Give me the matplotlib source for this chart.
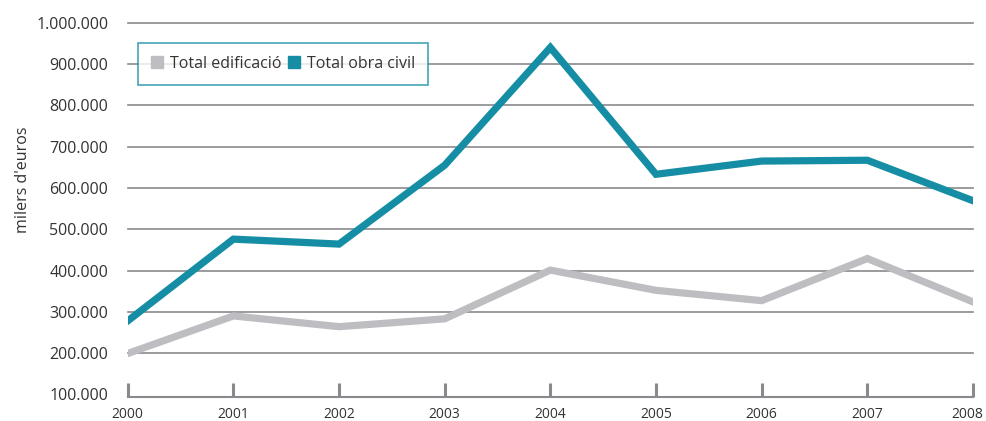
import numpy as np
import matplotlib
matplotlib.use('Agg')
import matplotlib.pyplot as plt
import matplotlib.transforms as mtransforms
from matplotlib.lines import Line2D
from matplotlib.ticker import FuncFormatter

# Data (milers d'euros)
years = [2000, 2001, 2002, 2003, 2004, 2005, 2006, 2007, 2008]
edificacio = [199000, 290000, 264000, 283000, 401000, 352000, 327000, 429000, 324000]
obra_civil = [278000, 476000, 464000, 655000, 940000, 633000, 665000, 667000, 569000]
yticks = [100000, 200000, 300000, 400000, 500000, 600000, 700000, 800000, 900000, 1000000]

teal = '#158EA5'
grey = '#BEBEC2'
axis_grey = '#8A8A8E'

plt.rcParams['font.family'] = ['Open Sans', 'DejaVu Sans']

fig = plt.figure(figsize=(9.87, 4.21), dpi=100)
ax = fig.add_axes([0.1294, 0.057, 0.8564, 0.889])

ax.plot(years, edificacio, color=grey, lw=5.2, solid_joinstyle='miter', zorder=3)
ax.plot(years, obra_civil, color=teal, lw=5.2, solid_joinstyle='miter', zorder=3)

ax.set_xlim(2000, 2008)
ax.set_ylim(93700, 1000000)
ax.set_xticks(years)
ax.set_yticks(yticks)
ax.yaxis.set_major_formatter(FuncFormatter(lambda v, p: f'{int(v):,}'.replace(',', '.')))

# horizontal grid
for v in yticks[1:]:
    ax.axhline(v, color=axis_grey, lw=1.2, zorder=1, clip_on=False)

for s in ['top', 'right', 'left']:
    ax.spines[s].set_visible(False)
ax.spines['bottom'].set_color(axis_grey)
ax.spines['bottom'].set_linewidth(1.5)

ax.tick_params(axis='x', direction='in', length=10, width=2.2, color=axis_grey,
               labelsize=10, labelcolor='#333333', pad=7)
ax.tick_params(axis='y', length=0, labelsize=11.5, labelcolor='#333333', pad=14)

# last year label sits a bit to the left so it fits in the figure
last = ax.get_xticklabels()[-1]
last.set_transform(last.get_transform() + mtransforms.ScaledTranslation(-6 / 100, 0, fig.dpi_scale_trans))

ax.set_ylabel("milers d'euros", fontsize=11.5, color='#333333')
ax.yaxis.set_label_coords(-0.115, 0.58)

handles = [Line2D([], [], marker='s', ls='', color=grey, markersize=8.5),
           Line2D([], [], marker='s', ls='', color=teal, markersize=8.5)]
leg = ax.legend(handles, ['Total edificació', 'Total obra civil'], loc='upper left',
                bbox_to_anchor=(0.012, 0.946), borderaxespad=0, ncol=2, frameon=True,
                fancybox=False, fontsize=11.5,
                handlelength=0.8, handletextpad=0.4, columnspacing=0.4,
                borderpad=0.8, labelcolor='#333333')
leg.get_frame().set_edgecolor(teal)
leg.get_frame().set_linewidth(1.2)
leg.set_zorder(5)

fig.savefig('out.png', dpi=100)
